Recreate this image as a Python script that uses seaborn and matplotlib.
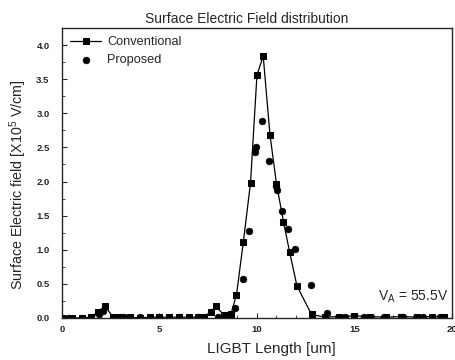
import numpy as np
import pandas as pd
import matplotlib
matplotlib.use("Agg")
import matplotlib.pyplot as plt
import seaborn as sns
from matplotlib.ticker import MultipleLocator, FormatStrFormatter

# data
conv_x = [0, 0.5, 1.0, 1.5, 1.84, 2.2, 2.6, 3.0, 3.5, 4.0, 4.5, 5.0, 5.5, 6.0, 6.5,
          7.0, 7.3, 7.63, 7.9, 8.3, 8.66, 8.95, 9.3, 9.67, 10.0, 10.32, 10.67, 11.0,
          11.36, 11.68, 12.05, 12.8, 13.5, 14.2, 15.0, 15.8, 16.6, 17.4, 18.2, 19.0, 19.6]
conv_y = [0, 0, 0, 0.01, 0.09, 0.17, 0.02, 0.01, 0.01, 0, 0.01, 0.01, 0.01, 0.01, 0.01,
          0.01, 0.02, 0.09, 0.17, 0.04, 0.05, 0.34, 1.11, 1.98, 3.56, 3.84, 2.68, 1.97,
          1.41, 0.96, 0.47, 0.05, 0.01, 0.02, 0.03, 0.02, 0.01, 0.02, 0.01, 0.02, 0.02]

prop_x = [0.3, 1.0, 1.9, 2.1, 3.2, 4.0, 5.0, 6.0, 7.0, 8.0, 8.4, 8.88, 9.26, 9.6, 9.9,
          9.95, 10.27, 10.64, 10.98, 11.02, 11.3, 11.6, 11.96, 12.78, 13.6, 14.5, 15.5,
          16.5, 17.5, 18.5, 19.4]
prop_y = [0, 0, 0.06, 0.1, 0.01, 0.01, 0.01, 0.01, 0.01, 0.02, 0.02, 0.14, 0.57, 1.27, 2.44,
          2.50, 2.89, 2.30, 1.93, 1.88, 1.57, 1.30, 1.01, 0.48, 0.07, 0.01, 0.02,
          0.01, 0.01, 0.01, 0.01]

df_conv = pd.DataFrame({"x": conv_x, "y": conv_y})
df_prop = pd.DataFrame({"x": prop_x, "y": prop_y})

sns.set_style("ticks")
plt.rcParams["font.family"] = ["Liberation Sans", "DejaVu Sans"]
plt.rcParams["mathtext.default"] = "regular"
plt.rcParams["xtick.direction"] = "in"
plt.rcParams["ytick.direction"] = "in"

fig = plt.figure(figsize=(4.56, 3.6), dpi=100)
ax = fig.add_axes([0.136, 0.117, 0.855, 0.805])

sns.lineplot(data=df_conv, x="x", y="y", ax=ax, color="black", linewidth=0.9,
             marker="s", markersize=5, markeredgecolor="black", label="Conventional")
sns.scatterplot(data=df_prop, x="x", y="y", ax=ax, color="black", marker="o",
                s=24, edgecolor="black", label="Proposed")

ax.set_xlim(0, 20)
ax.set_ylim(0, 4.25)
ax.xaxis.set_major_locator(MultipleLocator(5))
ax.xaxis.set_minor_locator(MultipleLocator(1))
ax.yaxis.set_major_locator(MultipleLocator(0.5))
ax.yaxis.set_minor_locator(MultipleLocator(0.25))
ax.yaxis.set_major_formatter(FormatStrFormatter("%.1f"))
ax.tick_params(which="major", length=3.5, width=0.8, labelsize=6.8)
ax.tick_params(which="minor", length=2, width=0.6)
ax.tick_params(axis="y", which="major", pad=9)
ax.tick_params(axis="x", which="major", pad=5)
for lab in ax.get_xticklabels() + ax.get_yticklabels():
    lab.set_fontweight("bold")
for s in ax.spines.values():
    s.set_linewidth(1.0)

ax.set_title("Surface Electric Field distribution", fontsize=10, pad=4, x=0.474)
ax.set_xlabel("LIGBT Length [um]", fontsize=11)
ax.xaxis.set_label_coords(0.536, -0.082)
ax.set_ylabel("Surface Electric field [X10$^5$ V/cm]", fontsize=10.3)
ax.yaxis.set_label_coords(-0.085, 0.46)
ax.text(0.99, 0.045, "V$_A$ = 55.5V", transform=ax.transAxes, ha="right", va="bottom",
        fontsize=10)

leg = ax.legend(loc="upper left", frameon=False, fontsize=9.2, handlelength=2.4,
                borderaxespad=0.25, labelspacing=0.45, handletextpad=0.5)

fig.savefig("out.png", dpi=100)
